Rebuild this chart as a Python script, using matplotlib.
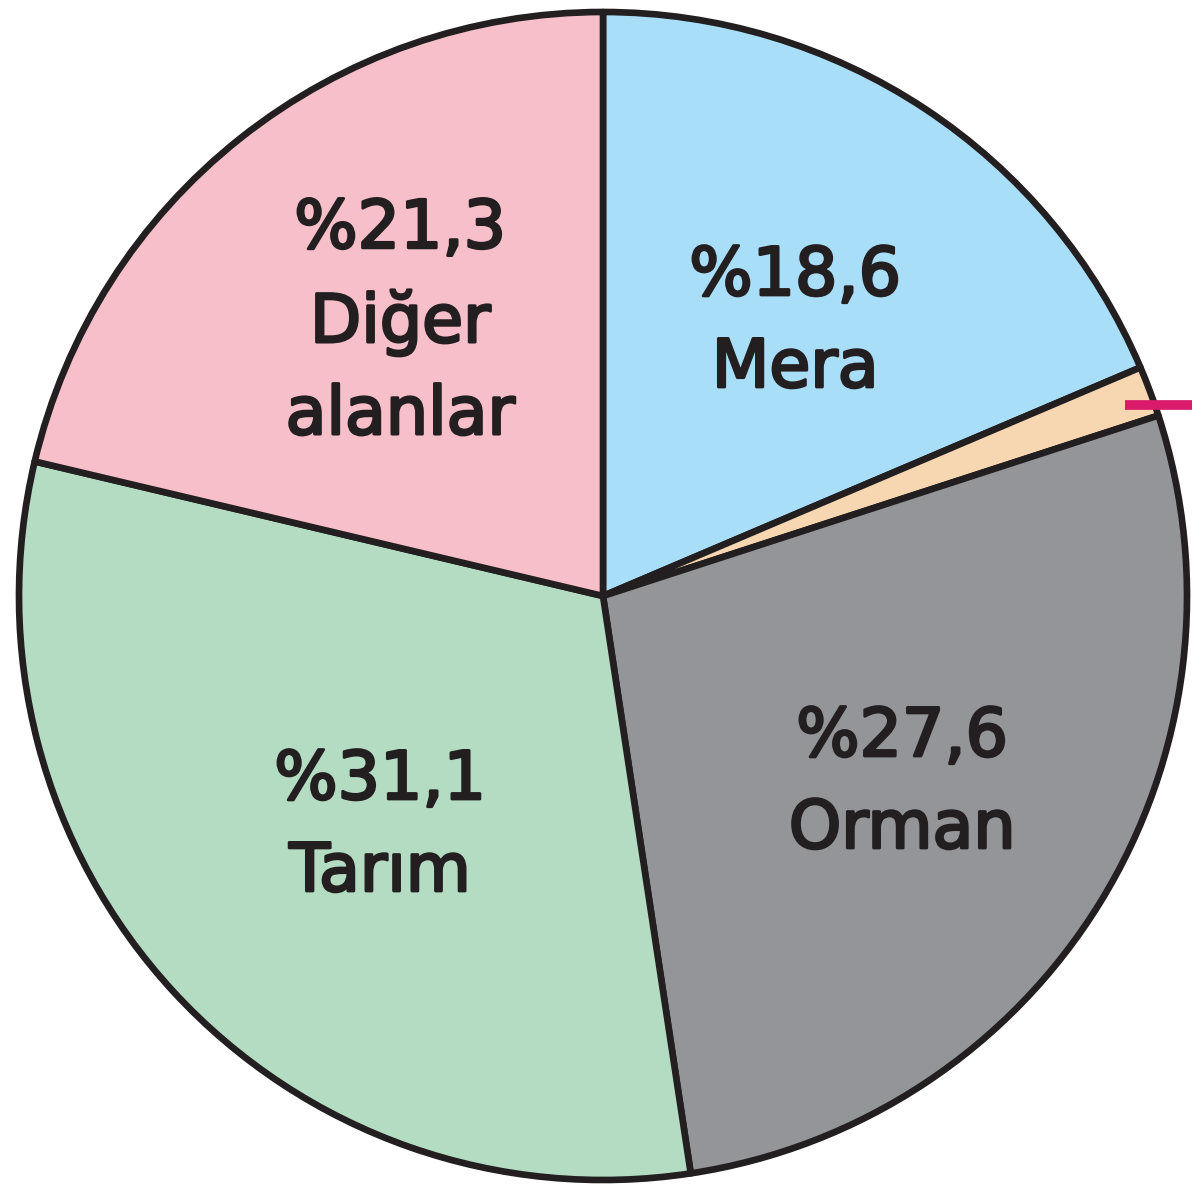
import matplotlib.pyplot as plt
import matplotlib.patheffects as pe

# Land use shares (%), clockwise from the top
labels = ["%18,6\nMera", "", "%27,6\nOrman", "%31,1\nTarım", "%21,3\nDiğer\nalanlar"]
values = [18.6, 1.4, 27.6, 31.1, 21.3]
colors = ["#A9DEF8", "#F6D7B2", "#939598", "#B3DCC3", "#F7BFCA"]

# label anchors in picture pixels (x, y from top)
label_pos = [(795, 322), None, (902, 783), (380, 826), (400, 322)]

W, H = 1192, 1190
INK = "#231F20"


def main():
    fig = plt.figure(figsize=(W / 100, H / 100), dpi=100)
    ax = fig.add_axes([0, 0, 1, 1])

    ax.pie(values, colors=colors, startangle=90, counterclock=False,
           center=(603, H - 596), radius=584, frame=True,
           wedgeprops=dict(edgecolor=INK, linewidth=4.8, joinstyle="round"))
    ax.set_xlim(0, W)
    ax.set_ylim(0, H)
    ax.set_aspect("equal")
    ax.axis("off")

    for text, pos in zip(labels, label_pos):
        if pos is None:
            continue
        ax.text(pos[0], H - pos[1], text, ha="center", va="center",
                fontsize=48, color=INK, linespacing=1.5,
                family="DejaVu Sans",
                path_effects=[pe.withStroke(linewidth=2, foreground=INK)])

    # leader line of the small slice (its label is outside the picture)
    ax.plot([1125, W + 5], [H - 405, H - 405], color="#DA1A6A",
            linewidth=7, solid_capstyle="butt", clip_on=False)

    fig.savefig("out.png", dpi=100, facecolor="white")


if __name__ == "__main__":
    main()
